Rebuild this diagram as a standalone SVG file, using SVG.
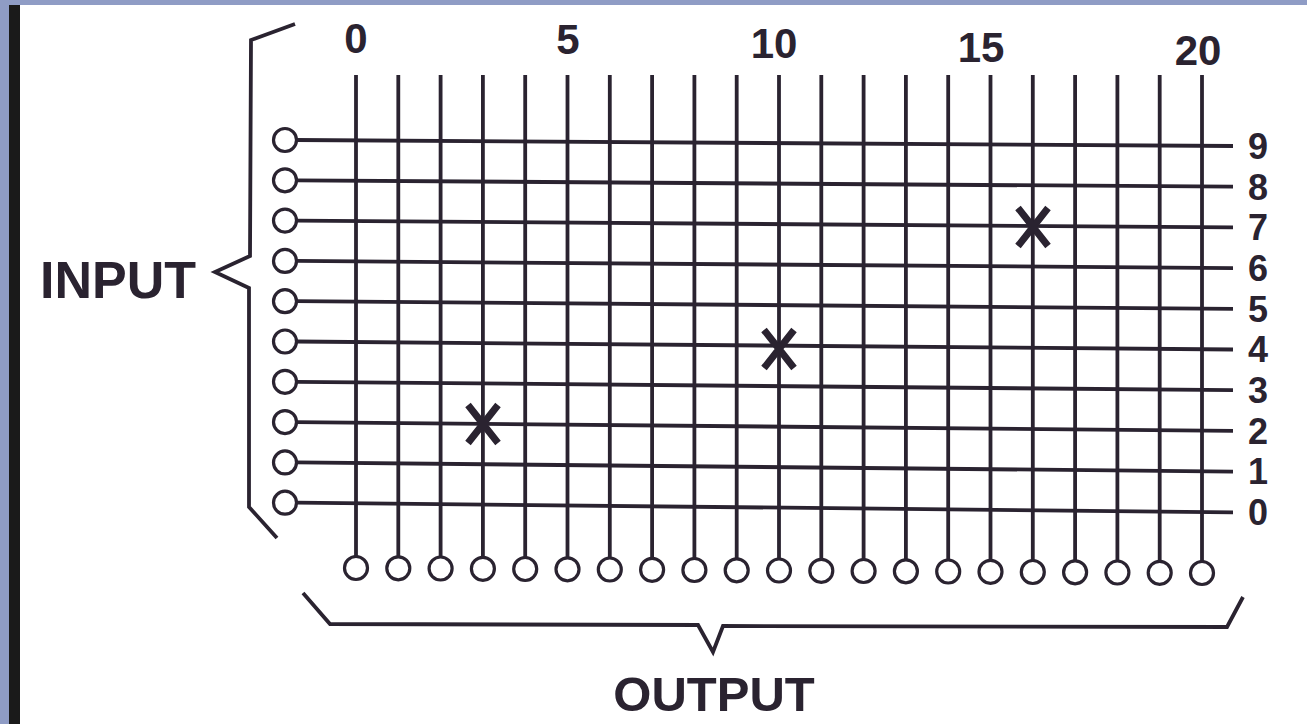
<svg xmlns="http://www.w3.org/2000/svg" width="1307" height="724" viewBox="0 0 1307 724">
<style>
.ln{stroke:#2a2330;stroke-width:3.8;fill:none;stroke-linecap:butt}
.br{stroke:#2a2330;stroke-width:3.8;fill:none;stroke-linejoin:miter}
.pin{stroke:#2a2330;stroke-width:3.2;fill:#ffffff}
.x{stroke:#2a2330;stroke-width:7;stroke-linecap:butt}
.lbl{font-family:"Liberation Sans",Arial,sans-serif;font-weight:bold;fill:#2a2330}
.top{font-size:42px;text-anchor:middle}
.side{font-size:36px;text-anchor:middle}
.big{font-size:52px}
.out{font-size:49px;text-anchor:middle}
</style>
<rect x="0" y="0" width="1307" height="724" fill="#ffffff"/>
<rect x="0" y="0" width="1307" height="5" fill="#8f9cc5"/>
<rect x="0" y="0" width="9" height="724" fill="#8f9cc5"/>
<rect x="9" y="5" width="11" height="719" fill="#1a1a1a"/>

<g id="connectors">
  <line class="ln" x1="296" y1="140" x2="1233" y2="146"/>
  <line class="ln" x1="296" y1="180.3" x2="1233" y2="186.7"/>
  <line class="ln" x1="296" y1="220.6" x2="1233" y2="227.4"/>
  <line class="ln" x1="296" y1="260.9" x2="1233" y2="268.1"/>
  <line class="ln" x1="296" y1="301.2" x2="1233" y2="308.8"/>
  <line class="ln" x1="296" y1="341.5" x2="1233" y2="349.5"/>
  <line class="ln" x1="296" y1="381.8" x2="1233" y2="390.2"/>
  <line class="ln" x1="296" y1="422.1" x2="1233" y2="430.9"/>
  <line class="ln" x1="296" y1="462.4" x2="1233" y2="471.6"/>
  <line class="ln" x1="296" y1="502.7" x2="1233" y2="512.3"/>
  <line class="ln" x1="356" y1="75" x2="356" y2="556"/>
  <line class="ln" x1="398.3" y1="75" x2="398.3" y2="556.3"/>
  <line class="ln" x1="440.6" y1="75" x2="440.6" y2="556.5"/>
  <line class="ln" x1="482.9" y1="75" x2="482.9" y2="556.8"/>
  <line class="ln" x1="525.2" y1="75" x2="525.2" y2="557"/>
  <line class="ln" x1="567.5" y1="75" x2="567.5" y2="557.3"/>
  <line class="ln" x1="609.8" y1="75" x2="609.8" y2="557.5"/>
  <line class="ln" x1="652.1" y1="75" x2="652.1" y2="557.8"/>
  <line class="ln" x1="694.4" y1="75" x2="694.4" y2="558"/>
  <line class="ln" x1="736.7" y1="75" x2="736.7" y2="558.3"/>
  <line class="ln" x1="779" y1="75" x2="779" y2="558.5"/>
  <line class="ln" x1="821.3" y1="75" x2="821.3" y2="558.8"/>
  <line class="ln" x1="863.6" y1="75" x2="863.6" y2="559"/>
  <line class="ln" x1="905.9" y1="75" x2="905.9" y2="559.3"/>
  <line class="ln" x1="948.2" y1="75" x2="948.2" y2="559.5"/>
  <line class="ln" x1="990.5" y1="75" x2="990.5" y2="559.8"/>
  <line class="ln" x1="1032.8" y1="75" x2="1032.8" y2="560"/>
  <line class="ln" x1="1075.1" y1="75" x2="1075.1" y2="560.3"/>
  <line class="ln" x1="1117.4" y1="75" x2="1117.4" y2="560.5"/>
  <line class="ln" x1="1159.7" y1="75" x2="1159.7" y2="560.8"/>
  <line class="ln" x1="1202" y1="75" x2="1202" y2="561"/>
</g>

<g id="input-pins">
  <circle class="pin" cx="285" cy="140" r="11.5"/>
  <circle class="pin" cx="285" cy="180.3" r="11.5"/>
  <circle class="pin" cx="285" cy="220.6" r="11.5"/>
  <circle class="pin" cx="285" cy="260.9" r="11.5"/>
  <circle class="pin" cx="285" cy="301.2" r="11.5"/>
  <circle class="pin" cx="285" cy="341.5" r="11.5"/>
  <circle class="pin" cx="285" cy="381.8" r="11.5"/>
  <circle class="pin" cx="285" cy="422.1" r="11.5"/>
  <circle class="pin" cx="285" cy="462.4" r="11.5"/>
  <circle class="pin" cx="285" cy="502.7" r="11.5"/>
</g>

<g id="output-pins">
  <circle class="pin" cx="356" cy="568" r="11.5"/>
  <circle class="pin" cx="398.3" cy="568.3" r="11.5"/>
  <circle class="pin" cx="440.6" cy="568.5" r="11.5"/>
  <circle class="pin" cx="482.9" cy="568.8" r="11.5"/>
  <circle class="pin" cx="525.2" cy="569" r="11.5"/>
  <circle class="pin" cx="567.5" cy="569.3" r="11.5"/>
  <circle class="pin" cx="609.8" cy="569.5" r="11.5"/>
  <circle class="pin" cx="652.1" cy="569.8" r="11.5"/>
  <circle class="pin" cx="694.4" cy="570" r="11.5"/>
  <circle class="pin" cx="736.7" cy="570.3" r="11.5"/>
  <circle class="pin" cx="779" cy="570.5" r="11.5"/>
  <circle class="pin" cx="821.3" cy="570.8" r="11.5"/>
  <circle class="pin" cx="863.6" cy="571" r="11.5"/>
  <circle class="pin" cx="905.9" cy="571.3" r="11.5"/>
  <circle class="pin" cx="948.2" cy="571.5" r="11.5"/>
  <circle class="pin" cx="990.5" cy="571.8" r="11.5"/>
  <circle class="pin" cx="1032.8" cy="572" r="11.5"/>
  <circle class="pin" cx="1075.1" cy="572.3" r="11.5"/>
  <circle class="pin" cx="1117.4" cy="572.5" r="11.5"/>
  <circle class="pin" cx="1159.7" cy="572.8" r="11.5"/>
  <circle class="pin" cx="1202" cy="573" r="11.5"/>
</g>

<g id="crosspoints">
  <path class="x" d="M468 405 L498 443 M498 405 L468 443"/>
  <path class="x" d="M764 330 L794 368 M794 330 L764 368"/>
  <path class="x" d="M1018 208 L1048 246 M1048 208 L1018 246"/>
</g>

<g id="input-brace">
  <path class="br" d="M295 24 L251 40 L250 256 L215 272 L249 288 L249 507 L277 538"/>
  <text class="lbl big" x="40" y="298">INPUT</text>
</g>

<g id="output-brace">
  <path class="br" d="M303 593 L330 624 L698 625 L713 652 L723 626 L1227 627 L1243 597"/>
  <text class="lbl out" x="714" y="711">OUTPUT</text>
</g>

<g id="column-labels">
  <text class="lbl top" x="356" y="53">0</text>
  <text class="lbl top" x="568" y="54">5</text>
  <text class="lbl top" x="774" y="58">10</text>
  <text class="lbl top" x="981" y="62">15</text>
  <text class="lbl top" x="1198" y="65">20</text>
</g>

<g id="row-labels">
  <text class="lbl side" x="1258" y="159">9</text>
  <text class="lbl side" x="1258" y="200">8</text>
  <text class="lbl side" x="1258" y="240">7</text>
  <text class="lbl side" x="1258" y="281">6</text>
  <text class="lbl side" x="1258" y="322">5</text>
  <text class="lbl side" x="1258" y="362">4</text>
  <text class="lbl side" x="1258" y="403">3</text>
  <text class="lbl side" x="1258" y="444">2</text>
  <text class="lbl side" x="1258" y="484">1</text>
  <text class="lbl side" x="1258" y="525">0</text>
</g>
</svg>
